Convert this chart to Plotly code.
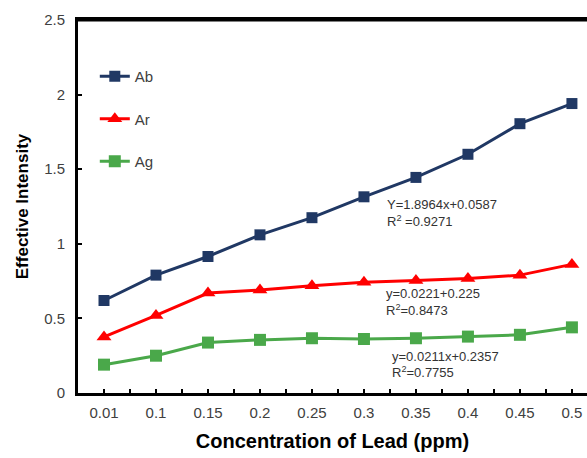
import plotly.graph_objects as go

categories = ["0.01", "0.1", "0.15", "0.2", "0.25", "0.3", "0.35", "0.4", "0.45", "0.5"]
ab_values = [0.62, 0.79, 0.915, 1.06, 1.175, 1.315, 1.445, 1.60, 1.805, 1.94]
ar_values = [0.376, 0.52, 0.67, 0.69, 0.718, 0.743, 0.754, 0.768, 0.79, 0.862]
ag_values = [0.19, 0.25, 0.338, 0.356, 0.367, 0.362, 0.367, 0.378, 0.39, 0.44]
y_ticks = [0, 0.5, 1, 1.5, 2, 2.5]
y_ticktext = ["0", "0.5", "1", "1.5", "2", "2.5"]

idx = list(range(len(categories)))

fig = go.Figure()
series = [
    ("Ab", ab_values, "#203864", "square", 11),
    ("Ar", ar_values, "#FF0000", "triangle-up", 13),
    ("Ag", ag_values, "#4AA84A", "square", 12),
]
for name, vals, color, sym, size in series:
    fig.add_trace(go.Scatter(
        x=idx, y=vals, name=name, legendgroup=name,
        mode="lines+markers",
        line=dict(color=color, width=3),
        marker=dict(color=color, symbol=sym, size=size),
    ))

font_family = "Liberation Sans, Arial, sans-serif"
ann_font = dict(family=font_family, size=13, color="#333333")

# plot area in pixels
L, T, R, B = 78, 20, 587, 393
annotations = [
    (385, 204, "Y=1.8964x+0.0587"),
    (385, 221, "R<sup>2</sup> =0.9271"),
    (384, 293, "y=0.0221+0.225"),
    (384, 310, "R<sup>2</sup>=0.8473"),
    (390, 356, "y=0.0211x+0.2357"),
    (390, 372, "R<sup>2</sup>=0.7755"),
]
W, H = 587, 458
for px, py, txt in annotations:
    fig.add_annotation(
        x=(px - L) / (R - L), y=(B - py) / (B - T), xref="paper", yref="paper",
        text=txt, showarrow=False, xanchor="left", yanchor="middle",
        font=ann_font,
    )

# top border of the plot area
fig.add_shape(type="line", xref="paper", yref="y", x0=0, x1=1, y0=2.5, y1=2.5,
              line=dict(color="black", width=3), layer="above")

fig.update_layout(
    width=W, height=H,
    margin=dict(l=L, r=W - R, t=T, b=H - B),
    paper_bgcolor="white", plot_bgcolor="white",
    font=dict(family=font_family, color="#404040", size=15),
    showlegend=True,
    legend=dict(
        x=0.033, y=0.893, xanchor="left", yanchor="top",
        tracegroupgap=20, font=dict(size=15, color="#404040"),
        bgcolor="rgba(0,0,0,0)",
    ),
    xaxis=dict(
        range=[-0.5, 9.29],
        tickvals=idx, ticktext=categories,
        ticks="inside", ticklen=4, tickwidth=1.5, tickcolor="black",
        minor=dict(tickvals=[i + 0.5 for i in idx], ticks="inside", ticklen=4, tickwidth=1.5, tickcolor="black"),
        showline=True, linecolor="black", linewidth=3, mirror=True,
        showgrid=False, zeroline=False,
        ticklabelstandoff=4,
        title=dict(text="<b>Concentration of Lead (ppm)</b>", font=dict(size=20, color="black"), standoff=14),
        tickfont=dict(size=15, color="#404040"),
    ),
    yaxis=dict(
        range=[0, 2.5],
        tickvals=y_ticks, ticktext=y_ticktext,
        ticks="inside", ticklen=4, tickwidth=1.5, tickcolor="black",
        showline=True, linecolor="black", linewidth=3,
        showgrid=False, zeroline=False,
        ticklabelstandoff=7,
        title=dict(text="<b>Effective Intensity</b>", font=dict(size=17, color="black"), standoff=12),
        tickfont=dict(size=15, color="#404040"),
    ),
)

fig.write_html("out.html")
